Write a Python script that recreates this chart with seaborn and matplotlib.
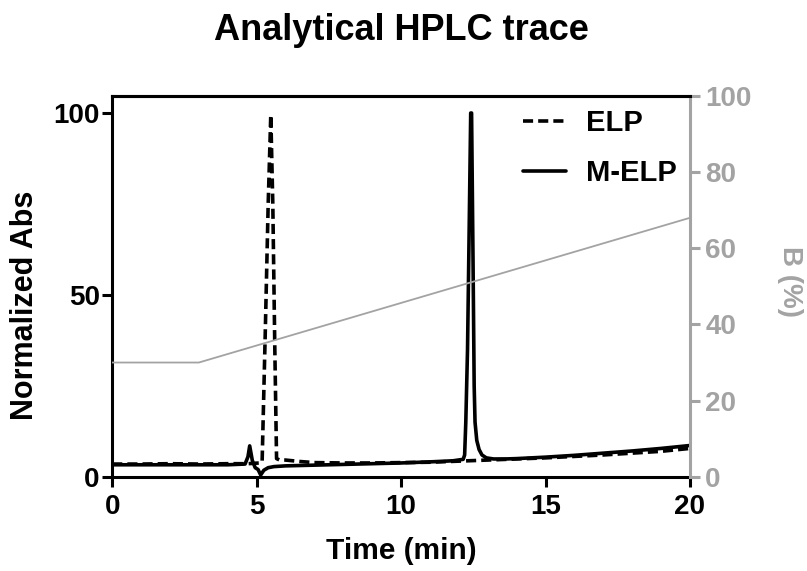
import matplotlib
matplotlib.use("Agg")
import matplotlib.pyplot as plt
import pandas as pd
import seaborn as sns

# ELP trace (dashed)
elp_time = [0, 1, 2, 3, 4, 4.7, 5.1, 5.19, 5.3, 5.4, 5.49, 5.56, 5.63, 5.69,
            5.8, 6.0, 6.5, 7, 8, 9, 10, 11, 12, 13, 14, 15, 16, 17, 18, 19, 20]
elp_abs = [3.5, 3.5, 3.6, 3.5, 3.6, 3.6, 3.8, 4.0, 40, 75, 99.5, 75, 35, 5.0,
           4.6, 4.6, 4.2, 3.9, 3.8, 3.8, 3.9, 4.0, 4.3, 4.6, 4.9, 5.2, 5.6, 6.0, 6.5, 7.0, 7.8]

# M-ELP trace (solid)
melp_time = [0, 1, 2, 3, 4, 4.6, 4.7, 4.76, 4.85, 4.95, 5.05, 5.14, 5.25, 5.4, 5.6,
             6, 7, 8, 9, 10, 11, 11.8, 12.15, 12.2, 12.24, 12.3, 12.36, 12.41, 12.44,
             12.49, 12.53, 12.56, 12.62, 12.7, 12.8, 12.95, 13.2, 13.6, 14, 15, 16,
             17, 18, 19, 20]
melp_abs = [3.3, 3.3, 3.3, 3.3, 3.3, 3.5, 5.5, 8.5, 4.5, 2.5, 2.0, 0.5, 1.8, 2.5, 2.8,
            3.0, 3.2, 3.4, 3.6, 3.8, 4.1, 4.4, 4.8, 6.0, 15, 35, 70, 100, 100,
            60, 25, 15, 10, 7.5, 6.0, 5.2, 4.9, 4.9, 5.0, 5.4, 5.9,
            6.5, 7.1, 7.8, 8.6]

# Solvent B gradient
grad_time = [0, 3, 20]
grad_b = [30, 30, 68]

x_ticks = [0, 5, 10, 15, 20]
y_ticks = [0, 50, 100]
b_ticks = [0, 20, 40, 60, 80, 100]

traces = pd.concat([
    pd.DataFrame({"Time": elp_time, "Abs": elp_abs, "Sample": "ELP"}),
    pd.DataFrame({"Time": melp_time, "Abs": melp_abs, "Sample": "M-ELP"}),
])
gradient = pd.DataFrame({"Time": grad_time, "B": grad_b})

sns.set_style("ticks")
plt.rcParams["font.family"] = ["Liberation Sans", "DejaVu Sans"]
plt.rcParams["font.weight"] = "bold"
plt.rcParams["text.color"] = "black"
plt.rcParams["axes.labelcolor"] = "black"

GRAY = "#a3a3a3"
LW = 2.2
TICK_FS = 20

fig = plt.figure(figsize=(8.07, 5.71), dpi=100)
ax = fig.add_axes([0.139, 0.165, 0.716, 0.667])

sns.lineplot(data=traces, x="Time", y="Abs", style="Sample",
             dashes={"ELP": (2.8, 1.4), "M-ELP": ""}, color="black",
             linewidth=2.6, ax=ax, sort=False, legend=False)

ax2 = ax.twinx()
sns.lineplot(data=gradient, x="Time", y="B", color=GRAY, linewidth=1.3, ax=ax2)

ax.set_xlim(0, 20)
ax.set_ylim(0, 104.7)
ax2.set_ylim(0, 100)
ax.set_xticks(x_ticks)
ax.set_yticks(y_ticks)
ax2.set_yticks(b_ticks)

for s in ["left", "bottom", "top"]:
    ax.spines[s].set_linewidth(LW)
    ax.spines[s].set_color("black")
ax.spines["right"].set_visible(False)
for s in ["left", "bottom"]:
    ax2.spines[s].set_visible(False)
ax2.spines["top"].set_linewidth(LW)
ax2.spines["top"].set_color("black")
ax2.spines["right"].set_linewidth(LW)
ax2.spines["right"].set_color(GRAY)

ax.tick_params(axis="x", direction="out", length=7, width=LW,
               labelsize=TICK_FS, colors="black", pad=5.5)
ax.tick_params(axis="y", direction="out", length=7, width=LW,
               labelsize=TICK_FS, colors="black", pad=2)
ax2.tick_params(axis="y", direction="out", length=7, width=LW,
                labelsize=TICK_FS, colors=GRAY, pad=4)
for lab in ax.get_xticklabels() + ax.get_yticklabels() + ax2.get_yticklabels():
    lab.set_fontweight("bold")

ax.set_xlabel("Time (min)", fontsize=21.5, fontweight="bold")
ax.xaxis.set_label_coords(0.5, -0.158)
ax.set_ylabel("Normalized Abs", fontsize=22, fontweight="bold")
ax.yaxis.set_label_coords(-0.125, 0.451)
ax2.set_ylabel("B (%)", fontsize=20, fontweight="bold", color=GRAY, rotation=270)
ax2.yaxis.set_label_coords(1.195, 0.514)
ax.set_title("Analytical HPLC trace", fontsize=26, fontweight="bold", pad=40)

handles = ax.get_lines()[:2]
ax2.legend(handles, ["ELP", "M-ELP"], loc="upper right",
           bbox_to_anchor=(1.0, 1.0), frameon=False, fontsize=21,
           handlelength=1.45, labelspacing=0.75, handletextpad=0.7,
           borderaxespad=0.15, borderpad=0.3)

fig.savefig("out.png", dpi=100)
